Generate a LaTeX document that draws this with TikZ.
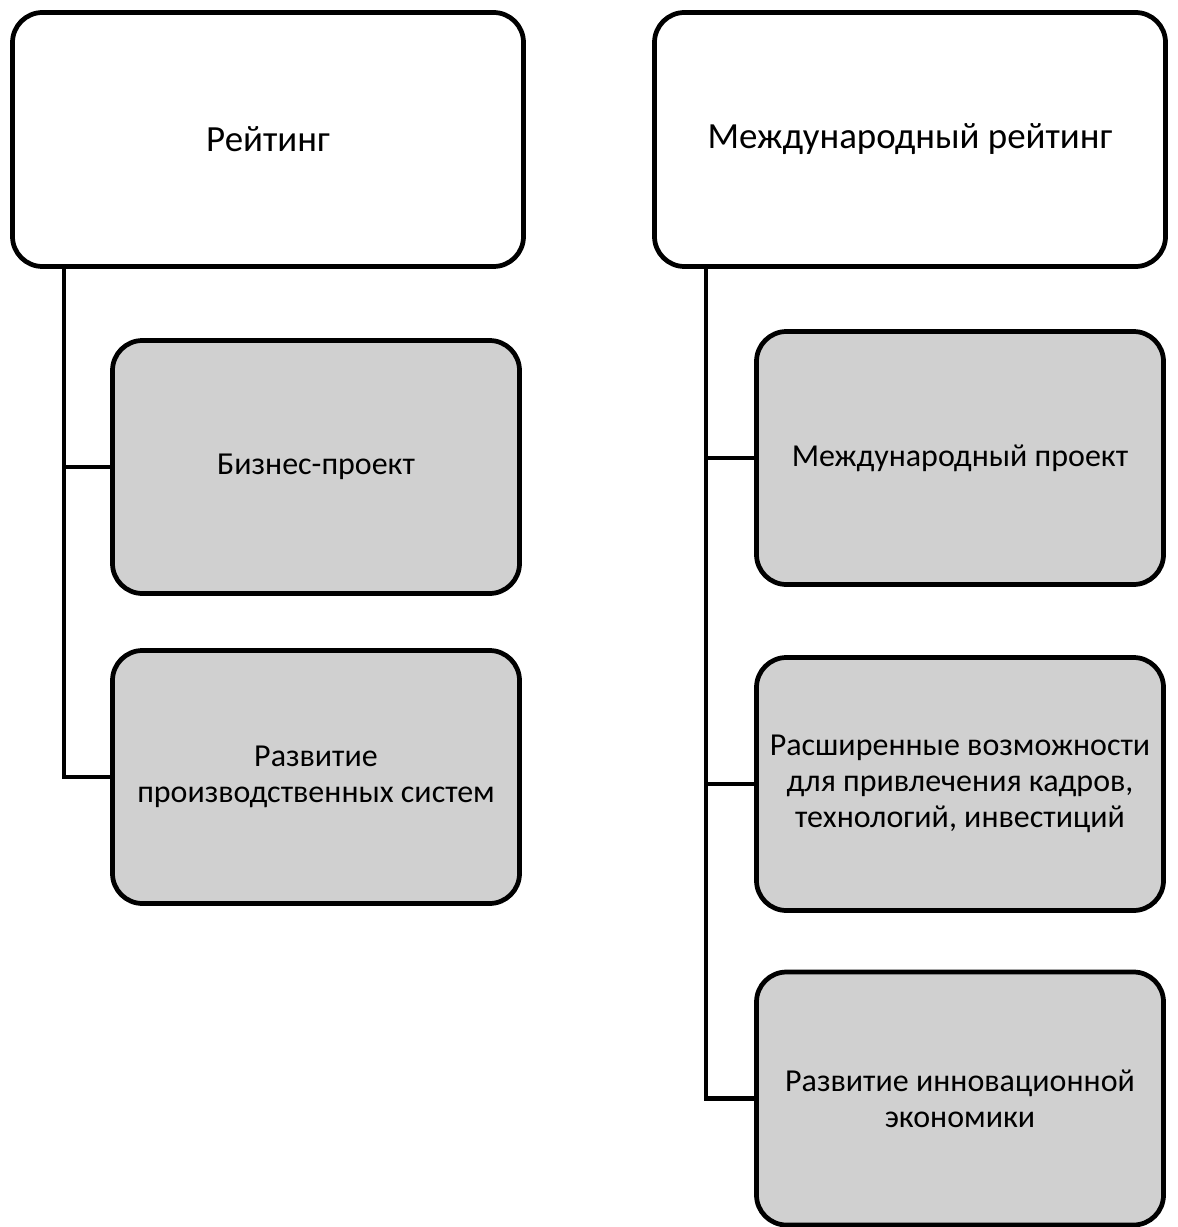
\documentclass[tikz,border=0pt]{standalone}
\usepackage{fontspec}
\setmainfont{Carlito}
\usepackage{tikz}
\usetikzlibrary{positioning}

\begin{document}
\begin{tikzpicture}[
    every node/.style = {draw, line width=2.7pt, rounded corners=0.6cm, align=center},
    topbox/.style = {fill=white, minimum width=10.22cm, minimum height=5.08cm, font=\fontsize{21}{25}\selectfont},
    subbox/.style = {fill=boxgray, minimum width=8.14cm, minimum height=5.06cm, font=\fontsize{18.2}{20.3}\selectfont},
    link/.style = {line width=2.7pt}
  ]
  \definecolor{boxgray}{HTML}{D0D0D0}
  \useasboundingbox (0,0) rectangle (23.56,-24.54);

  % Рейтинг
  \node[topbox] (rating) at (5.36,-2.79) {Рейтинг};
  \node[subbox] (biz) at (6.32,-9.34) {Бизнес-проект};
  \node[subbox] (prod) at (6.32,-15.54) {Развитие\\производственных систем};
  \coordinate (lt) at (1.28,0);
  \draw[link] (rating.south -| lt) |- (prod.west);
  \draw[link] (lt |- biz.west) -- (biz.west);

  % Международный рейтинг
  \node[topbox] (intrating) at (18.2,-2.79) {Международный рейтинг};
  \node[subbox] (intproj) at (19.2,-9.16) {Международный проект};
  \node[subbox] (ext) at (19.2,-15.68) {Расширенные возможности\\для привлечения кадров,\\технологий, инвестиций};
  \node[subbox] (innov) at (19.2,-21.97) {Развитие инновационной\\экономики};
  \coordinate (rt) at (14.12,0);
  \draw[link] (intrating.south -| rt) |- (innov.west);
  \draw[link] (rt |- intproj.west) -- (intproj.west);
  \draw[link] (rt |- ext.west) -- (ext.west);
\end{tikzpicture}
\end{document}
